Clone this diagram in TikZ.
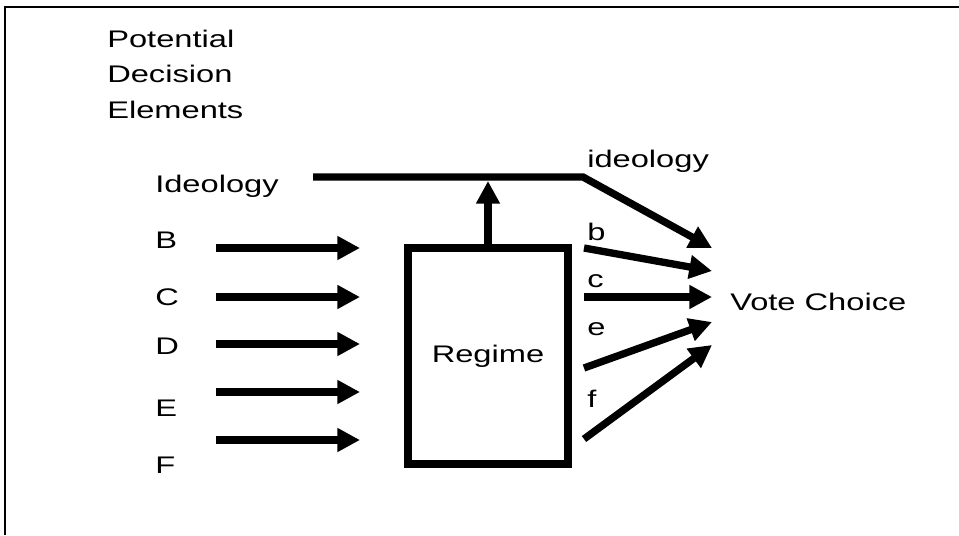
\documentclass[tikz,border=0pt]{standalone}
\usepackage{fontspec}
\setmainfont{Liberation Sans}[FakeStretch=1.36]
\usetikzlibrary{arrows.meta}

\tikzset{
  lbl/.style={anchor=base west, inner sep=0pt, font=\fontsize{18}{22}\selectfont},
  flow/.style={line width=5.5pt, -{Triangle[length=17pt,width=17pt]}},
  bar/.style={line width=5.5pt},
  regimebox/.style={draw, line width=6pt, minimum width=120pt, minimum height=162pt,
    inner sep=0pt, font=\fontsize{18}{22}\selectfont},
}

\begin{document}
\begin{tikzpicture}[x=0.75pt, y=-0.75pt]
  \useasboundingbox (0,0) rectangle (959,535);
  \draw[line width=2pt] (5,535) -- (5,7) -- (959,7);

  \node[lbl] (pot) at (107,48) {Potential};
  \node[lbl] (dec) at (107,83) {Decision};
  \node[lbl] (elm) at (107,118) {Elements};
  \node[lbl] (ideo) at (155,192) {Ideology};

  % left inputs
  \foreach \name/\y/\ly in {B/248/248, C/297/305, D/344/354, E/392/416, F/440/473} {
    \node[lbl] (\name) at (155,\ly) {\name};
    \coordinate (\name in) at (216,\y);
    \coordinate (\name out) at (360,\y);
    \draw[flow] (\name in) -- (\name out);
  }

  \node[regimebox] (regime) at (488,356) {Regime};

  % ideology bar
  \coordinate (barL) at (313,177);
  \coordinate (bend) at (583,177);
  \coordinate (barhit) at (488,181);
  \coordinate (ideotip) at (712,248);
  \draw[flow] (barL) -- (bend) -- (ideotip);
  \draw[flow] (regime.north) -- (barhit);
  \node[lbl] (ideoout) at (587,167) {ideology};

  % outputs
  \foreach \n/\sy/\ty/\ly in {b/248/271/240, c/297/297/287, e/368/322/335, f/439/345/407} {
    \node[lbl] (\n) at (587,\ly) {\n};
    \coordinate (\n src) at (584,\sy);
    \coordinate (\n tip) at (712,\ty);
    \draw[flow] (\n src) -- (\n tip);
  }

  \node[lbl] (vote) at (730,310) {Vote Choice};
\end{tikzpicture}
\end{document}
